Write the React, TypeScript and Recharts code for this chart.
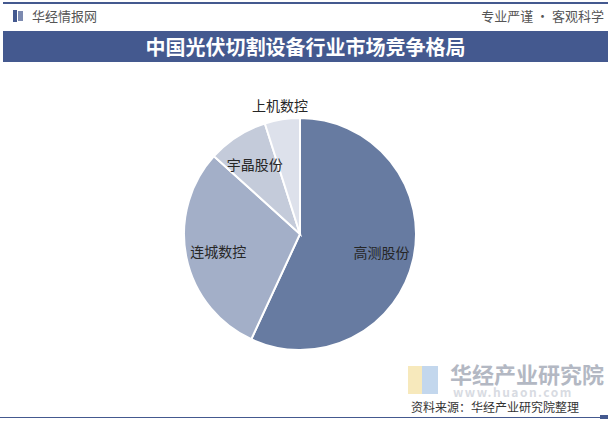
import React from "react"
import { PieChart, Pie, Cell } from "recharts"

// 数据：市场份额（%）
const companies = ["高测股份", "连城数控", "宇晶股份", "上机数控"]
const shares = [56.9, 29.8, 8.4, 4.9]
const colors = ["#677ba1", "#a3afc8", "#c4cbda", "#dde1eb"]

const data = companies.map((name, i) => ({ name, value: shares[i] }))

const RAD = Math.PI / 180
const FONT = "'Noto Sans CJK SC', 'Noto Sans', sans-serif"

const renderLabel = (props: any) => {
  const { cx, cy, midAngle, outerRadius, name, percent } = props
  // 小扇区标签放在外面
  const r = percent < 0.06 ? outerRadius + 15 : outerRadius * 0.72
  const x = cx + r * Math.cos(-midAngle * RAD)
  const y = cy + r * Math.sin(-midAngle * RAD)
  return (
    <text x={x} y={y} fill="#262626" fontSize={14} textAnchor="middle" dominantBaseline="central" fontFamily={FONT}>
      {name}
    </text>
  )
}

export default function App() {
  return (
    <div style={{ position: "fixed", left: 0, top: 0, width: 611, height: 423, background: "#fff", fontFamily: FONT, overflow: "hidden" }}>
      {/* 顶部线 */}
      <div style={{ position: "absolute", left: 3, top: 2, width: 605, height: 2, background: "#44598f" }} />
      {/* logo */}
      <div style={{ position: "absolute", left: 13, top: 10, width: 4, height: 12, background: "#44598f" }} />
      <div style={{ position: "absolute", left: 18, top: 11, width: 5, height: 10, background: "#44598f", opacity: 0.7 }} />
      <div style={{ position: "absolute", left: 32, top: 7, fontSize: 13, color: "#555", lineHeight: "18px" }}>华经情报网</div>
      <div style={{ position: "absolute", right: 7, top: 7, fontSize: 13, color: "#555", lineHeight: "18px" }}>专业严谨 • 客观科学</div>
      {/* 标题栏 */}
      <div style={{ position: "absolute", left: 3, top: 31, width: 605, height: 31, background: "#44598f", color: "#fff", fontSize: 20, fontWeight: 700, textAlign: "center", lineHeight: "31px" }}>
        中国光伏切割设备行业市场竞争格局
      </div>

      {/* 水印 */}
      <div style={{ position: "absolute", left: 408, top: 366, width: 14, height: 28, background: "#f3dfa0", opacity: 0.7 }} />
      <div style={{ position: "absolute", left: 422, top: 366, width: 16, height: 28, background: "#a9c6e6", opacity: 0.7 }} />
      <div style={{ position: "absolute", left: 450, top: 360, fontSize: 22, fontWeight: 700, color: "#b3b8c3", lineHeight: "26px" }}>华经产业研究院</div>
      <div style={{ position: "absolute", left: 453, top: 386, fontSize: 12, fontWeight: 700, color: "#d8dbe2", lineHeight: "12px", letterSpacing: 1.5 }}>www.huaon.com</div>

      <div style={{ position: "absolute", left: 0, top: 0 }}>
        <PieChart width={611} height={423} margin={{ top: 0, right: 0, bottom: 0, left: 0 }}>
          <Pie
            data={data}
            dataKey="value"
            nameKey="name"
            cx={300}
            cy={234}
            outerRadius={116}
            startAngle={90}
            endAngle={-270}
            stroke="#fff"
            strokeWidth={2}
            label={renderLabel}
            labelLine={false}
            isAnimationActive={false}
          >
            {data.map((d, i) => (
              <Cell key={d.name} fill={colors[i]} />
            ))}
          </Pie>
        </PieChart>
      </div>

      {/* 底部 */}
      <div style={{ position: "absolute", left: 411, top: 399, fontSize: 12, color: "#333", lineHeight: "16px" }}>资料来源：华经产业研究院整理</div>
      <div style={{ position: "absolute", left: 0, top: 417, width: 600, height: 1, background: "#44598f" }} />
      <div style={{ position: "absolute", left: 600, top: 415, width: 8, height: 4, background: "#44598f" }} />
    </div>
  )
}
